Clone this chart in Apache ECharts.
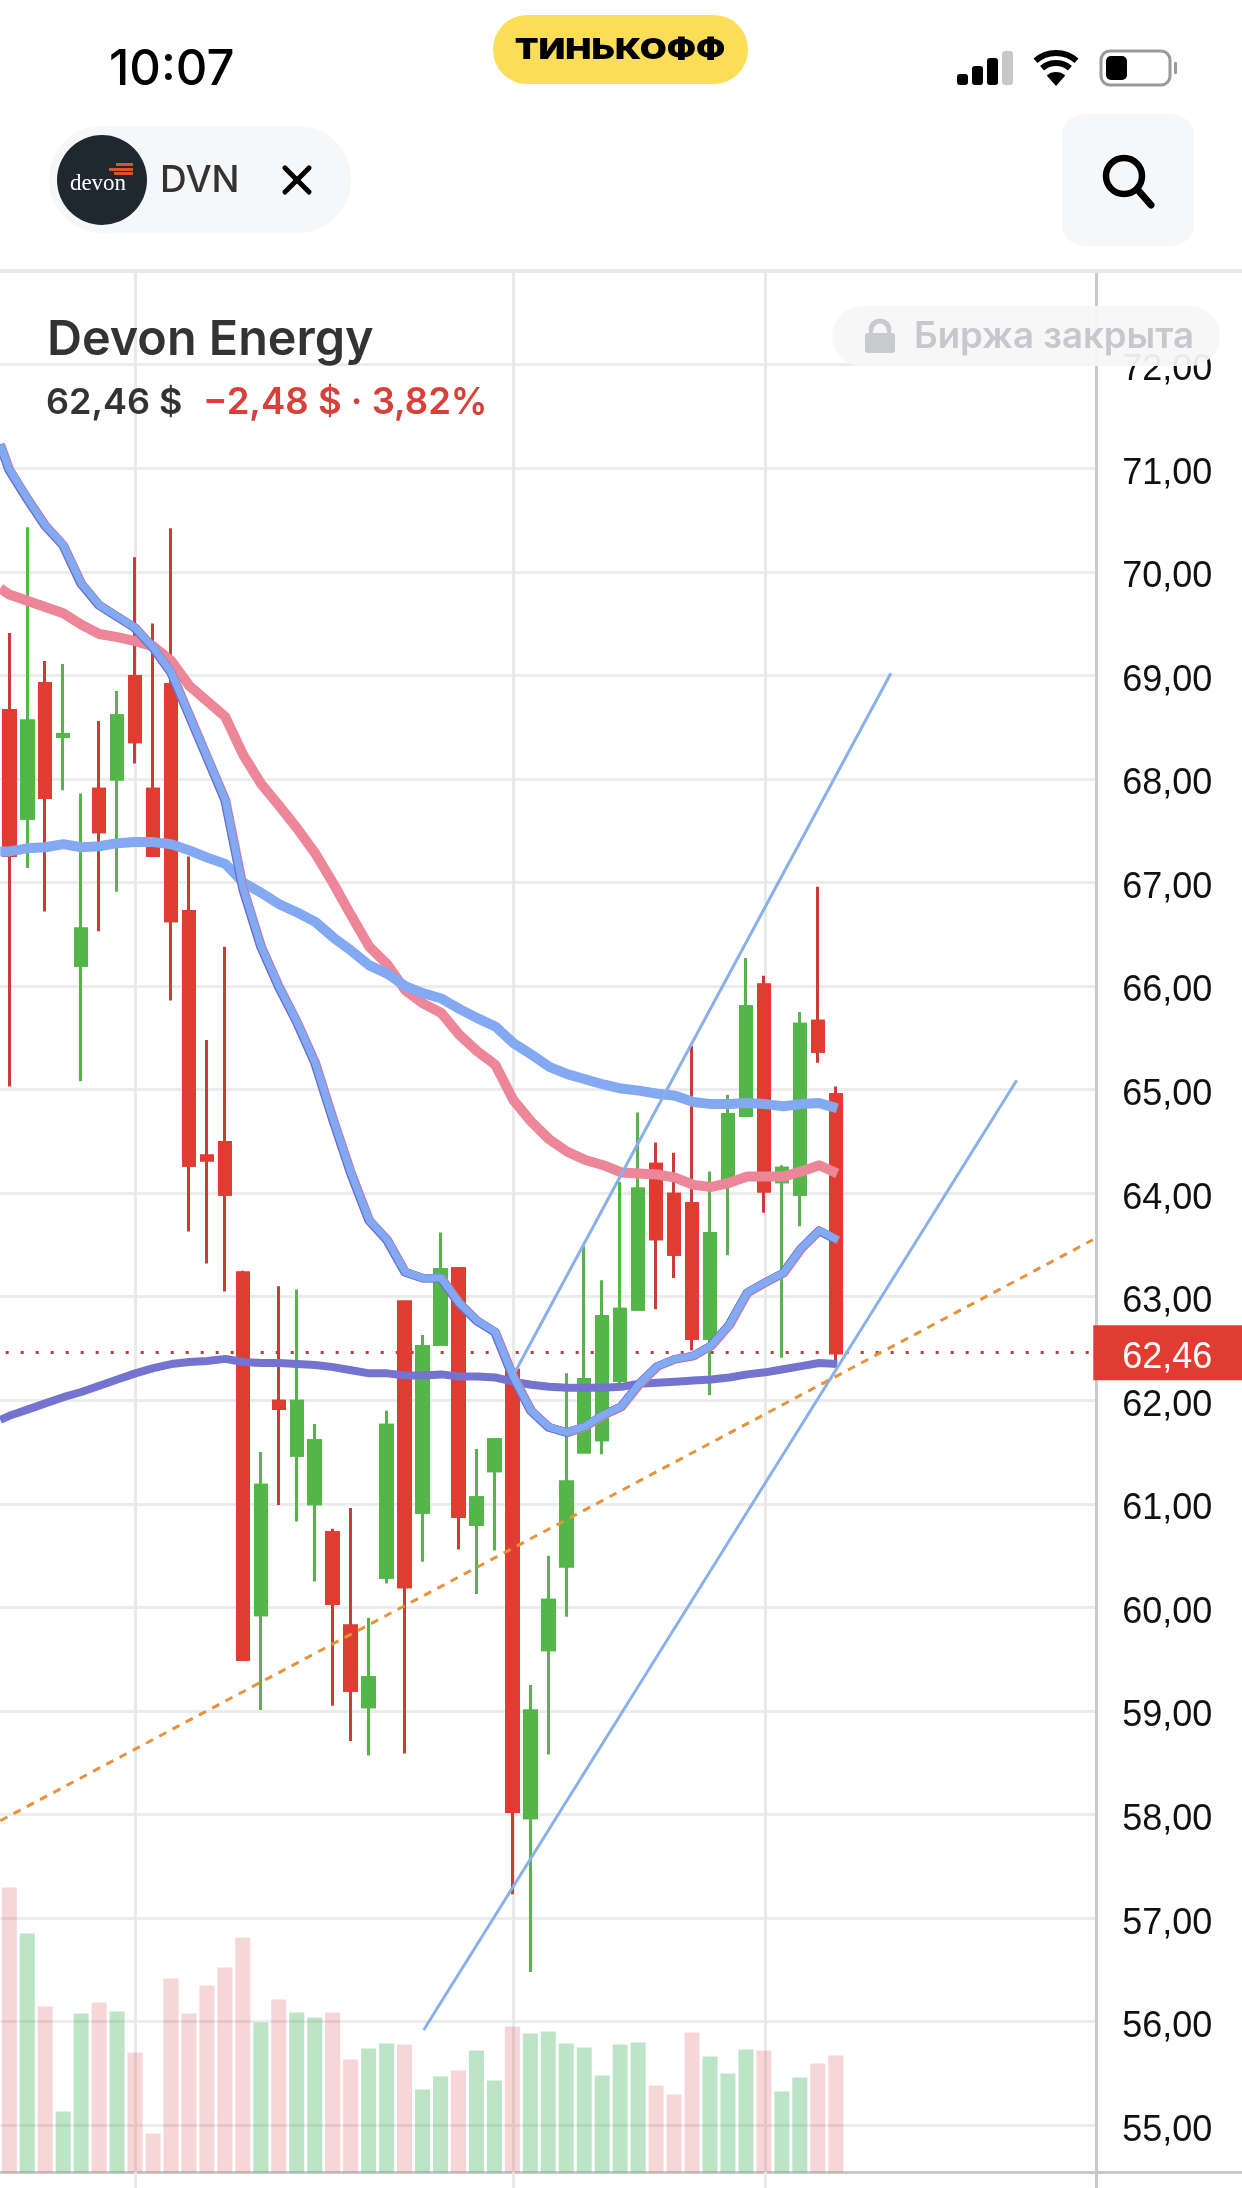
<!DOCTYPE html>
<html>
<head>
<meta charset="utf-8">
<title>Devon Energy</title>
<style>html,body{margin:0;padding:0;background:#fff}#c{width:1242px;height:2188px}</style>
<script src="https://cdn.jsdelivr.net/npm/echarts@6/dist/echarts.min.js"></script>
</head>
<body>
<div id="c"></div>
<script>
// ---- data ----
const slots = Array.from({length: 61}, (_, i) => String(i));
const yTicks = {min: 55, max: 72, step: 1};
const lastPrice = 62.46;
const opens  = [68.66,67.62,68.92,68.41,66.20,67.90,68.00,68.99,67.90,68.91,66.72,64.36,64.49,63.23,59.93,61.99,61.47,61.00,60.72,59.82,59.04,60.29,62.95,60.92,62.54,63.27,60.80,61.32,62.29,57.97,59.59,60.40,61.50,61.62,62.19,62.88,64.28,63.99,63.90,62.60,64.14,64.75,66.01,64.11,63.99,65.66,64.95];
const closes = [67.26,68.56,67.82,68.43,66.55,67.49,68.61,68.36,67.26,66.63,64.27,64.32,63.99,59.50,61.18,61.92,61.99,61.61,60.04,59.20,59.32,61.76,60.20,62.52,63.26,60.88,61.06,61.62,58.03,59.00,60.07,61.21,62.20,62.81,62.88,64.04,63.56,63.41,62.60,63.61,64.76,65.80,64.02,64.24,65.63,65.37,62.46];
const lows   = [65.03,67.14,66.72,67.89,65.08,66.53,66.91,68.15,67.26,65.86,63.63,63.32,63.05,59.50,59.01,60.99,60.83,60.25,59.05,58.71,58.57,60.23,58.59,60.44,62.54,60.56,60.13,60.55,57.23,56.48,58.58,59.91,61.50,61.48,62.16,62.88,62.88,63.18,62.48,62.05,63.40,64.75,63.81,62.41,63.68,65.26,62.36];
const highs  = [69.41,70.43,69.14,69.11,67.86,68.56,68.85,70.14,69.50,70.42,67.25,65.48,66.38,63.25,61.50,63.10,63.07,61.77,60.76,60.96,59.90,61.90,62.95,62.63,63.62,63.27,61.53,61.62,62.29,59.25,60.50,62.26,63.49,63.16,64.11,64.78,64.49,64.39,65.42,64.21,64.95,66.27,66.10,64.27,65.75,66.96,65.03];
const volumes = [285,239,166,61,159,170,161,120,39,194,159,187,205,235,150,173,160,155,160,113,124,129,128,83,96,102,122,92,146,139,141,129,125,97,128,130,87,78,140,116,99,123,122,81,95,109,117];
// moving averages: value at the left edge, then one value per candle
const maFast = [71.23,70.99,70.71,70.45,70.26,69.89,69.68,69.57,69.46,69.27,69.03,68.62,68.21,67.80,66.94,66.38,65.99,65.65,65.26,64.71,64.19,63.74,63.55,63.24,63.18,63.18,62.94,62.77,62.66,62.23,61.90,61.74,61.69,61.75,61.86,61.94,62.16,62.33,62.40,62.43,62.53,62.73,63.04,63.14,63.23,63.47,63.64,63.55];
const maPink = [69.84,69.78,69.72,69.66,69.60,69.49,69.40,69.37,69.33,69.28,69.14,68.90,68.75,68.60,68.23,67.95,67.74,67.52,67.28,66.99,66.68,66.38,66.21,65.96,65.83,65.74,65.53,65.37,65.24,64.90,64.69,64.52,64.40,64.32,64.27,64.20,64.19,64.18,64.15,64.08,64.06,64.10,64.16,64.16,64.16,64.21,64.27,64.19];
const maBlue = [67.30,67.30,67.33,67.34,67.37,67.34,67.35,67.38,67.39,67.39,67.37,67.31,67.24,67.18,67.00,66.90,66.79,66.71,66.62,66.47,66.34,66.20,66.12,66.00,65.93,65.88,65.78,65.69,65.61,65.45,65.34,65.22,65.15,65.10,65.05,65.01,64.99,64.96,64.94,64.88,64.86,64.86,64.87,64.86,64.84,64.86,64.87,64.82];
const maViolet = [61.81,61.85,61.91,61.97,62.03,62.08,62.14,62.20,62.26,62.31,62.35,62.37,62.38,62.40,62.37,62.36,62.36,62.35,62.34,62.32,62.29,62.26,62.26,62.24,62.24,62.25,62.23,62.23,62.22,62.18,62.15,62.13,62.12,62.12,62.12,62.13,62.16,62.17,62.18,62.19,62.20,62.22,62.25,62.27,62.30,62.33,62.36,62.35];
// drawn trend lines: [slot position, price]
const channelLow  = [[23.02,55.92],[55.97,65.09]];
const channelHigh = [[28.09,62.27],[48.98,69.02]];
const trendOrange = [[-0.5,57.94],[60.2,63.55]];
const timeGuides = [7, 28, 42];

// ---- styles ----
const RED='#e03c31', RED_WICK='#c93d38', GREEN='#54b648', GREEN_WICK='#58b34c';
const GRIDC='#ececec';
const FONT='"Liberation Sans", Arial, sans-serif';
const UI='Inter, Roboto, sans-serif';
const priceText = v => v.toFixed(2).replace('.',',');

const ohlc = opens.map((o,i)=>[o,closes[i],lows[i],highs[i]]);
const bodies = opens.map((o,i)=>[o,closes[i],Math.min(o,closes[i]),Math.max(o,closes[i])]);
const maData = a => a.map((v,i)=>[i===0?-0.5:i-1,v]);
const lineOn = (name,data,color,width,z,extra={}) => ({
  name,type:'line',xAxisIndex:1,yAxisIndex:0,data,symbol:'none',silent:true,z,
  lineStyle:Object.assign({color,width,cap:'butt',join:'round'},extra)
});

const option = {
  animation:false,
  backgroundColor:'#fff',
  grid:[
    {left:0.3,width:1096,top:364.7,height:1760.5},
    {left:0.3,width:1096,top:271,height:1901.5},
    {left:0.3,width:1096,top:271,height:1917},
    // same scale as the price grid, set a few pixels lower: carries the text that sits just under each gridline
    {left:0.3,width:1096,top:370.2,height:1760.5}
  ],
  xAxis:[
    {type:'category',gridIndex:0,data:slots,show:false},
    {type:'value',gridIndex:0,min:-0.5,max:60.39,show:false},
    {type:'category',gridIndex:1,data:slots,axisLabel:{show:false},axisTick:{show:false},splitLine:{show:false},
      axisLine:{show:true,lineStyle:{color:'#c9c9c9',width:3}}},
    {type:'value',gridIndex:2,min:-0.5,max:60.39,position:'top',axisLabel:{show:false},axisTick:{show:false},splitLine:{show:false},
      axisLine:{show:true,onZero:false,lineStyle:{color:'#e9e9e9',width:4}}},
    {type:'value',gridIndex:3,min:-0.5,max:60.39,show:false}
  ],
  yAxis:[
    {type:'value',gridIndex:0,position:'right',min:yTicks.min,max:yTicks.max,interval:yTicks.step,
      axisLine:{show:false},axisTick:{show:false},axisLabel:{show:false},
      splitLine:{show:true,lineStyle:{color:GRIDC,width:3}}},
    {type:'value',gridIndex:1,min:0,max:1901.5,show:false},
    {type:'value',gridIndex:2,min:0,max:1,position:'right',axisLabel:{show:false},axisTick:{show:false},splitLine:{show:false},
      axisLine:{show:true,onZero:false,lineStyle:{color:'#c9c9c9',width:3}}},
    {type:'value',gridIndex:3,position:'right',min:yTicks.min,max:yTicks.max,interval:yTicks.step,
      axisLine:{show:false},axisTick:{show:false},splitLine:{show:false},
      axisLabel:{margin:26,color:'#111',fontFamily:FONT,fontSize:36,formatter:priceText}}
  ],
  series:[
    {name:'guides',type:'line',xAxisIndex:3,yAxisIndex:2,data:[],symbol:'none',silent:true,z:1,
      markLine:{silent:true,symbol:'none',label:{show:false},animation:false,z:1,
        lineStyle:{color:'#e9e9e9',width:3,type:'solid'},
        data:timeGuides.map(v=>({xAxis:v}))}},
    {name:'Volume',type:'bar',xAxisIndex:2,yAxisIndex:1,barWidth:15,z:2,silent:true,
      data:volumes.map((v,i)=>({value:v,itemStyle:{color:closes[i]>=opens[i]?'rgba(60,175,90,0.34)':'rgba(210,50,50,0.2)'}}))},
    {name:'wicks',type:'candlestick',xAxisIndex:0,yAxisIndex:0,barWidth:12,z:3,silent:true,data:ohlc,
      itemStyle:{color:GREEN,color0:RED,borderColor:GREEN_WICK,borderColor0:RED_WICK,borderWidth:3}},
    {name:'bodies',type:'candlestick',xAxisIndex:0,yAxisIndex:0,barWidth:12,z:3,silent:true,data:bodies,
      itemStyle:{color:GREEN,color0:RED,borderColor:GREEN,borderColor0:RED,borderWidth:3}},
    {name:'last',type:'line',xAxisIndex:1,yAxisIndex:0,data:[],symbol:'none',silent:true,z:1,
      markLine:{silent:true,symbol:'none',animation:false,z:1,
        lineStyle:{color:'#c73a3a',width:3,type:[3,12]},
        label:{show:true,position:'end',distance:-3,formatter:' ',backgroundColor:RED,
          width:150,height:55,lineHeight:55,padding:0,align:'left',verticalAlign:'middle'},
        data:[[{xAxis:-0.2,yAxis:lastPrice},{xAxis:60.39,yAxis:lastPrice}]]}},
    {name:'last text',type:'line',xAxisIndex:4,yAxisIndex:3,data:[],symbol:'none',silent:true,z:2,
      markLine:{silent:true,symbol:'none',animation:false,z:2,
        lineStyle:{color:'rgba(0,0,0,0)',width:1},
        label:{show:true,position:'end',distance:26,formatter:priceText(lastPrice),
          color:'#fff',fontFamily:FONT,fontSize:36,align:'left',verticalAlign:'middle'},
        data:[[{xAxis:59,yAxis:lastPrice},{xAxis:60.39,yAxis:lastPrice}]]}},
    lineOn('MA violet',maData(maViolet),'#7473cf',8,5),
    lineOn('MA pink',maData(maPink),'#ec8698',10,5),
    lineOn('MA blue',maData(maBlue),'#82a9f1',10,5),
    lineOn('MA fast outer',maData(maFast),'#ec8698',8,5,{shadowColor:'#ec8698',shadowBlur:0,shadowOffsetX:1,shadowOffsetY:0.5}),
    lineOn('MA fast inner',maData(maFast),'#6b6fcb',8,5,{shadowColor:'#6b6fcb',shadowBlur:0,shadowOffsetX:-1,shadowOffsetY:0.5}),
    lineOn('MA fast',maData(maFast),'#82a9f1',7.5,5),
    lineOn('channel low',channelLow,'#8ab0ec',3,6),
    lineOn('channel high',channelHigh,'#8ab0ec',3,6),
    lineOn('trend',trendOrange,'#e8923c',3,6,{type:[8,7]})
  ],
  graphic:{elements:[
    // frame lines continuing across the axis gutter
    {type:'rect',z:50,shape:{x:1096,y:269,width:146,height:4},style:{fill:'#e9e9e9'}},
    {type:'rect',z:50,shape:{x:1096,y:2171,width:146,height:3},style:{fill:'#c9c9c9'}},
    // status bar
    {type:'text',z:100,style:{x:109,y:70,text:'10:07',font:'500 49px '+UI,fill:'#000',textVerticalAlign:'middle'}},
    {type:'rect',z:100,shape:{x:493,y:15,width:255,height:69,r:34},style:{fill:'#fbdd58'}},
    {type:'text',z:101,x:620,y:50,scaleX:1.2,style:{x:0,y:0,text:'ТИНЬКОФФ',font:'900 29px '+UI,fill:'#000',textAlign:'center',textVerticalAlign:'middle'}},
    {type:'rect',z:100,shape:{x:957,y:74,width:11,height:11,r:3},style:{fill:'#000'}},
    {type:'rect',z:100,shape:{x:972,y:66,width:11,height:19,r:3},style:{fill:'#000'}},
    {type:'rect',z:100,shape:{x:987,y:58,width:11,height:27,r:3},style:{fill:'#000'}},
    {type:'rect',z:100,shape:{x:1002,y:51,width:11,height:34,r:3},style:{fill:'#c7c7c7'}},
    {type:'arc',z:100,shape:{cx:1056,cy:84,r:31,startAngle:Math.PI*1.27,endAngle:Math.PI*1.73},style:{stroke:'#000',fill:null,lineWidth:6}},
    {type:'arc',z:100,shape:{cx:1056,cy:84,r:21,startAngle:Math.PI*1.27,endAngle:Math.PI*1.73},style:{stroke:'#000',fill:null,lineWidth:6}},
    {type:'sector',z:100,shape:{cx:1056,cy:86,r:14,r0:0,startAngle:Math.PI*1.27,endAngle:Math.PI*1.73},style:{fill:'#000'}},
    {type:'rect',z:100,shape:{x:1101,y:51,width:69,height:34,r:9},style:{fill:'#fff',stroke:'#9a9a9a',lineWidth:3}},
    {type:'rect',z:100,shape:{x:1106,y:56,width:21,height:24,r:5},style:{fill:'#000'}},
    {type:'rect',z:100,shape:{x:1174,y:62,width:3,height:12,r:1},style:{fill:'#9a9a9a'}},
    // ticker chip
    {type:'rect',z:100,shape:{x:49,y:126,width:302,height:107,r:53},style:{fill:'#f6f7f8'}},
    {type:'circle',z:100,shape:{cx:102,cy:180,r:45},style:{fill:'#1f2830'}},
    {type:'text',z:101,style:{x:98,y:184,text:'devon',font:'23px "Liberation Serif", serif',fill:'#fff',textAlign:'center',textVerticalAlign:'middle'}},
    {type:'rect',z:101,shape:{x:116,y:163,width:17,height:3},style:{fill:'#d9532c'}},
    {type:'rect',z:101,shape:{x:109,y:168,width:24,height:3},style:{fill:'#d9532c'}},
    {type:'rect',z:101,shape:{x:114,y:172,width:19,height:3},style:{fill:'#d9532c'}},
    {type:'text',z:101,style:{x:160,y:181,text:'DVN',font:'500 37px '+UI,fill:'#333',textVerticalAlign:'middle'}},
    {type:'line',z:101,shape:{x1:285,y1:168,x2:309,y2:192},style:{stroke:'#000',lineWidth:5,lineCap:'round'}},
    {type:'line',z:101,shape:{x1:309,y1:168,x2:285,y2:192},style:{stroke:'#000',lineWidth:5,lineCap:'round'}},
    // search
    {type:'rect',z:100,shape:{x:1062,y:114,width:132,height:132,r:22},style:{fill:'#f6f7f8'}},
    {type:'circle',z:101,shape:{cx:1124,cy:176,r:18},style:{fill:null,stroke:'#000',lineWidth:6.5}},
    {type:'line',z:101,shape:{x1:1137,y1:189,x2:1151,y2:205},style:{stroke:'#000',lineWidth:7,lineCap:'round'}},
    // title block
    {type:'text',z:100,style:{x:47,y:340,text:'Devon Energy',font:'600 48.5px '+UI,fill:'#333',textVerticalAlign:'middle'}},
    {type:'text',z:100,style:{x:46,y:403,text:'62,46 $',font:'600 36px '+UI,fill:'#333',textVerticalAlign:'middle'}},
    {type:'text',z:100,style:{x:203,y:403,text:'−2,48 $ · 3,82%',font:'600 36.5px '+UI,fill:'#d8403a',textVerticalAlign:'middle'}},
    // market-closed pill
    {type:'rect',z:100,shape:{x:832,y:306,width:388,height:60,r:30},style:{fill:'rgba(246,247,248,0.94)'}},
    {type:'rect',z:101,shape:{x:865,y:333,width:30,height:20,r:3},style:{fill:'#c8cacd'}},
    {type:'arc',z:101,shape:{cx:880,cy:330,r:9,startAngle:Math.PI,endAngle:Math.PI*2},style:{stroke:'#c8cacd',fill:null,lineWidth:5}},
    {type:'rect',z:101,shape:{x:869,y:328,width:4,height:6},style:{fill:'#c8cacd'}},
    {type:'rect',z:101,shape:{x:887,y:328,width:4,height:6},style:{fill:'#c8cacd'}},
    {type:'text',z:101,style:{x:914,y:337,text:'Биржа закрыта',font:'600 36.6px '+UI,fill:'#c6c8cc',textVerticalAlign:'middle'}}
  ]}
};
const chart = echarts.init(document.getElementById('c'),null,{renderer:'canvas',width:1242,height:2188});
chart.setOption(option);
</script>
</body>
</html>
